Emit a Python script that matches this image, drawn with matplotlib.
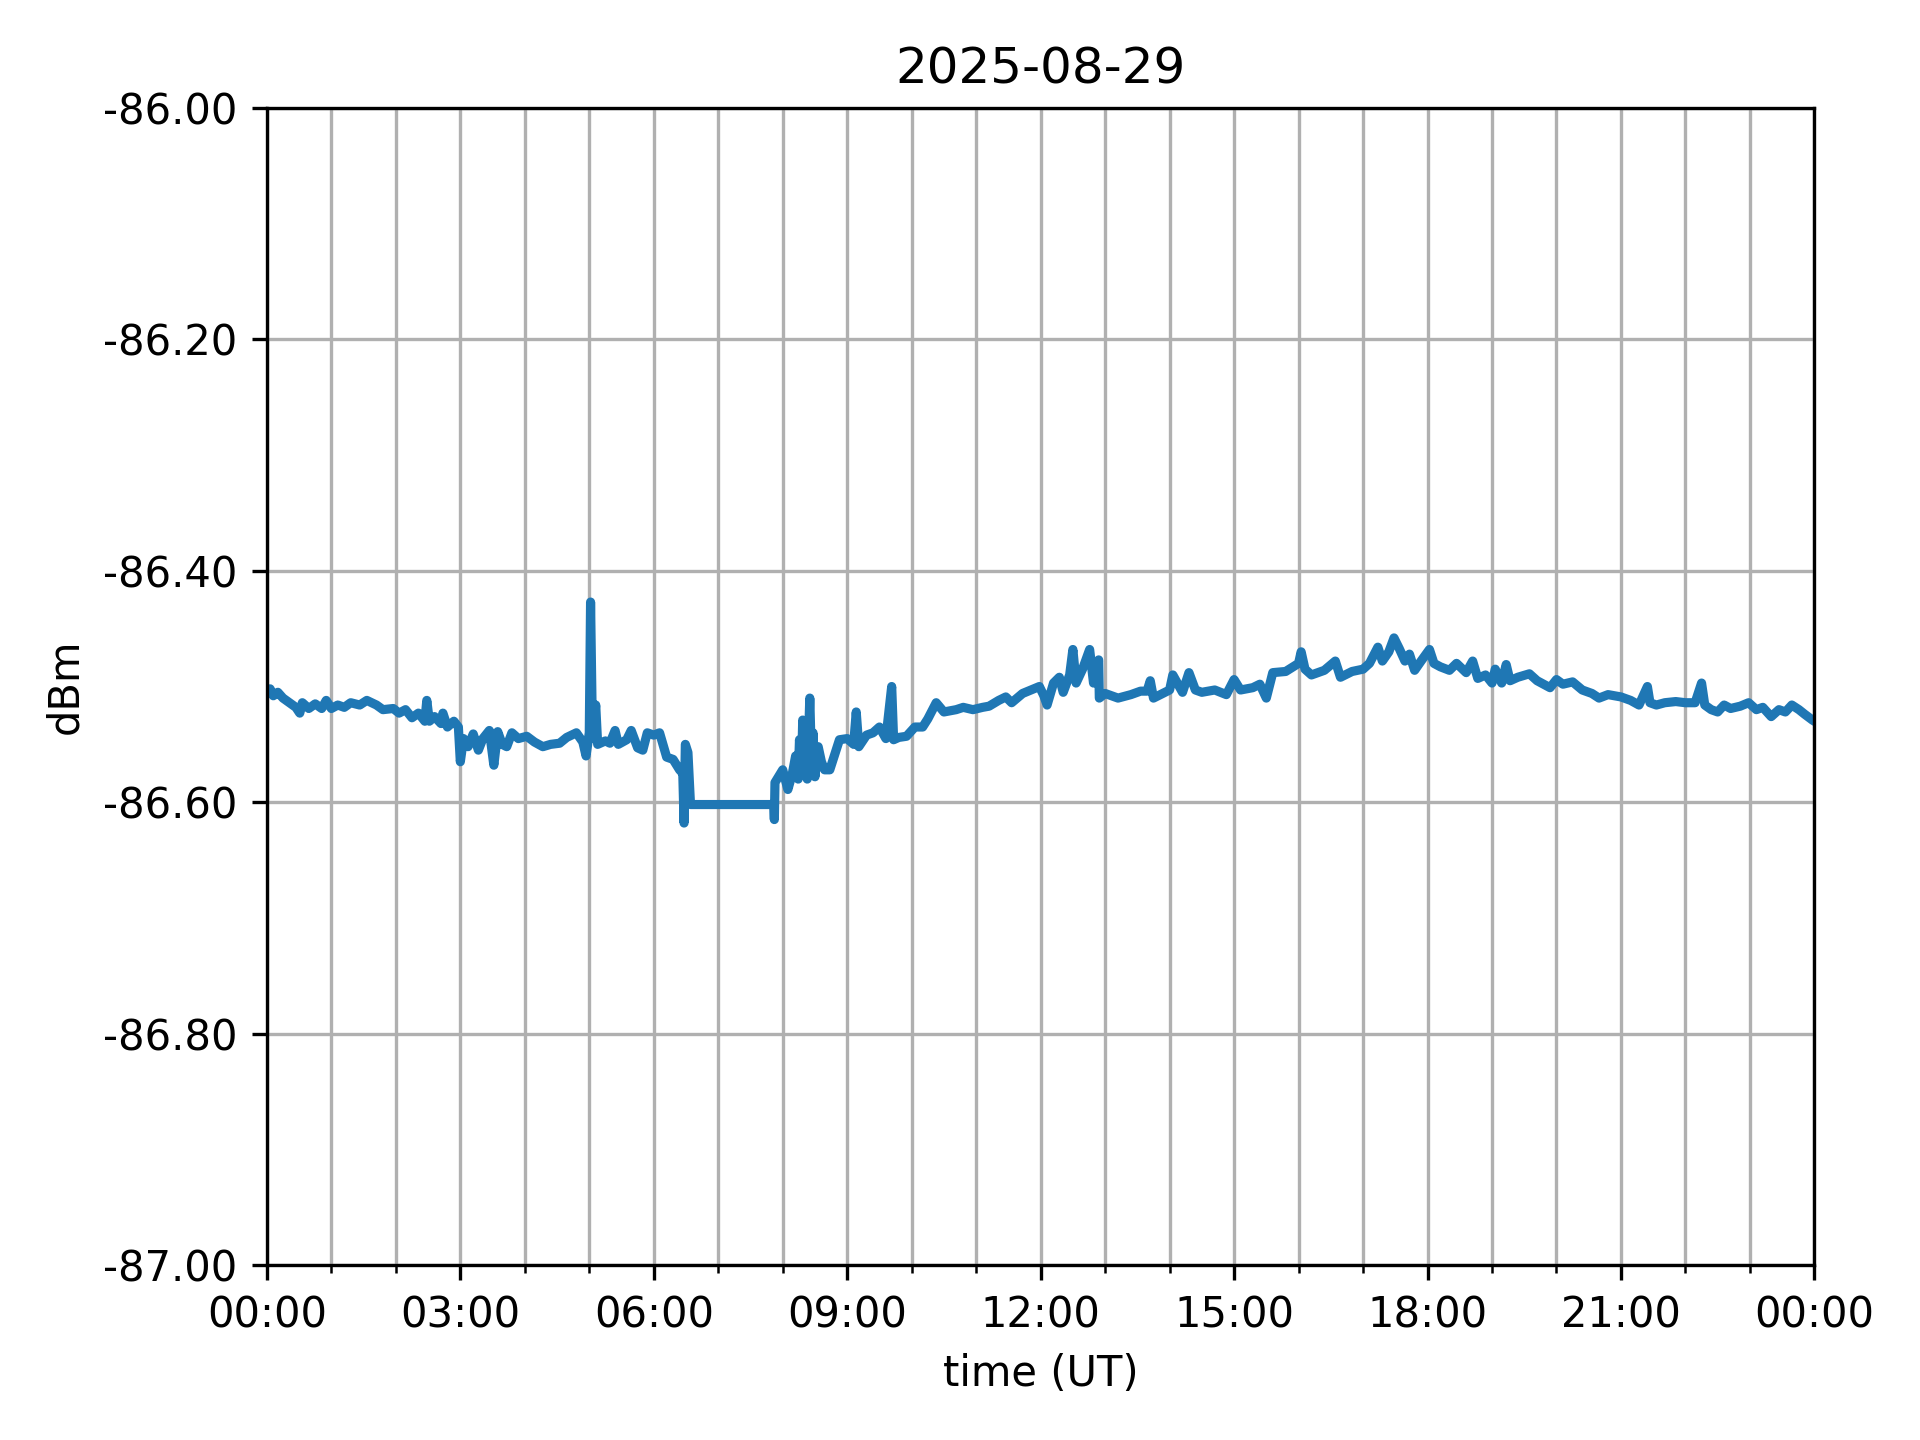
import matplotlib
matplotlib.use("Agg")
import matplotlib.pyplot as plt
import matplotlib.dates as mdates
import numpy as np
import pandas as pd

title = "2025-08-29"

hours = [
    0.00, 0.05, 0.10, 0.17, 0.25, 0.35, 0.45, 0.51, 0.55, 0.65, 0.75, 0.85, 0.92, 1.00,
    1.10, 1.20, 1.30, 1.44, 1.55, 1.70, 1.80, 1.96, 2.05, 2.15, 2.25, 2.35, 2.45, 2.48,
    2.52, 2.60, 2.70, 2.73, 2.80, 2.90, 2.97, 3.00, 3.05, 3.12, 3.20, 3.28, 3.35, 3.45,
    3.52, 3.58, 3.65, 3.72, 3.80, 3.90, 4.03, 4.15, 4.28, 4.40, 4.54, 4.65, 4.80, 4.90,
    4.95, 5.00, 5.02, 5.05, 5.10, 5.13, 5.25, 5.32, 5.40, 5.45, 5.58, 5.65, 5.75, 5.83,
    5.90, 6.00, 6.09, 6.20, 6.30, 6.40, 6.45, 6.47, 6.49, 6.53, 6.57, 7.86, 7.87, 7.88,
    8.00, 8.08, 8.15, 8.20, 8.24, 8.26, 8.29, 8.31, 8.33, 8.35, 8.38, 8.42, 8.45, 8.47,
    8.50, 8.55, 8.60, 8.65, 8.73, 8.80, 8.88, 9.00,
    9.10, 9.14, 9.18, 9.30, 9.40, 9.50, 9.60, 9.69, 9.72, 9.80, 9.92, 10.05, 10.17, 10.25,
    10.38, 10.50, 10.69, 10.80, 10.95, 11.10, 11.20, 11.35, 11.46, 11.55, 11.72, 11.85, 11.98,
    12.05, 12.10, 12.20, 12.29, 12.35, 12.45, 12.50, 12.55, 12.65, 12.76, 12.82, 12.90, 12.91,
    13.00, 13.20, 13.40, 13.55, 13.65, 13.70, 13.75, 14.00, 14.05, 14.20, 14.30, 14.40, 14.50,
    14.70, 14.88, 15.00, 15.10, 15.29, 15.40, 15.50, 15.60, 15.80, 16.00, 16.04, 16.10, 16.20,
    16.40, 16.57, 16.65, 16.83, 17.00, 17.10, 17.23, 17.30, 17.40, 17.48, 17.56, 17.65, 17.72,
    17.80, 17.90, 18.03, 18.10, 18.20, 18.34, 18.45, 18.60, 18.70, 18.78, 18.90, 19.00, 19.05,
    19.15, 19.22, 19.28, 19.40, 19.58, 19.70, 19.90, 20.00, 20.10, 20.25, 20.40, 20.55, 20.66,
    20.80, 21.00, 21.15, 21.28, 21.41, 21.45, 21.55, 21.68, 21.85, 22.00, 22.15, 22.25, 22.30,
    22.40, 22.50, 22.60, 22.70, 22.85, 22.98, 23.10, 23.20, 23.33, 23.45, 23.55, 23.65, 23.76,
    23.85, 23.97, 24.00,
]

dbm = [
    -86.506, -86.502, -86.508, -86.505, -86.510, -86.514, -86.518, -86.523, -86.514, -86.519,
    -86.515, -86.519, -86.512, -86.519, -86.516, -86.518, -86.514, -86.516, -86.512, -86.516,
    -86.520, -86.519, -86.523, -86.520, -86.527, -86.523, -86.530, -86.512, -86.530, -86.526,
    -86.532, -86.523, -86.535, -86.530, -86.535, -86.565, -86.545, -86.552, -86.541, -86.555,
    -86.545, -86.538, -86.568, -86.539, -86.550, -86.552, -86.540, -86.545, -86.543, -86.548,
    -86.552, -86.550, -86.549, -86.544, -86.540, -86.548, -86.560, -86.540, -86.427, -86.545,
    -86.516, -86.550, -86.547, -86.549, -86.538, -86.550, -86.546, -86.538, -86.553, -86.555,
    -86.540, -86.542, -86.540, -86.561, -86.563, -86.572, -86.575, -86.618, -86.550, -86.557,
    -86.602, -86.602, -86.615, -86.583,
    -86.572, -86.589, -86.575, -86.560, -86.580, -86.546, -86.575, -86.529, -86.570, -86.540,
    -86.580, -86.510, -86.575, -86.540, -86.578, -86.552, -86.565, -86.572, -86.572, -86.560,
    -86.546, -86.545,
    -86.550, -86.522,
    -86.552, -86.542, -86.540, -86.535, -86.545, -86.500, -86.546, -86.544, -86.543, -86.535,
    -86.535, -86.528, -86.514, -86.522, -86.520, -86.518, -86.520, -86.518, -86.517, -86.512,
    -86.509, -86.514, -86.506, -86.503, -86.500, -86.508, -86.516, -86.497, -86.492, -86.505,
    -86.490, -86.468, -86.497, -86.485, -86.468, -86.497, -86.477, -86.510, -86.506, -86.510,
    -86.507, -86.504, -86.504, -86.495, -86.510, -86.503, -86.490, -86.505, -86.488, -86.503,
    -86.505, -86.503, -86.507, -86.494, -86.503, -86.501, -86.498, -86.510, -86.488, -86.487,
    -86.480, -86.470, -86.485, -86.490, -86.486, -86.478, -86.492, -86.487, -86.485, -86.480,
    -86.466, -86.478, -86.470, -86.458, -86.467, -86.478, -86.472, -86.486, -86.478, -86.468,
    -86.480, -86.483, -86.486, -86.480, -86.488, -86.478, -86.493, -86.490, -86.497, -86.485,
    -86.497, -86.481, -86.495, -86.492, -86.489, -86.495, -86.501, -86.494, -86.498, -86.496,
    -86.503, -86.506, -86.510, -86.507, -86.509, -86.512, -86.516, -86.500, -86.514, -86.516,
    -86.514, -86.513, -86.514, -86.514, -86.497, -86.516, -86.520, -86.522, -86.516, -86.519,
    -86.517, -86.514, -86.520, -86.518, -86.526, -86.520, -86.522, -86.516, -86.520, -86.524,
    -86.529, -86.530,
]

start = pd.Timestamp("2025-08-29 00:00")
times = [start + pd.Timedelta(hours=h) for h in hours]

fig, ax = plt.subplots(figsize=(6.4, 4.8), dpi=300)
fig.subplots_adjust(left=0.139, right=0.945, top=0.925, bottom=0.1215)

ax.plot(times, dbm, color="#1f77b4", linewidth=2.2)

ax.set_xlim(start, start + pd.Timedelta(hours=24))
ax.set_ylim(-87.0, -86.0)
ax.set_yticks(np.arange(-87.0, -85.99, 0.2))
ax.yaxis.set_major_formatter(matplotlib.ticker.FormatStrFormatter("%.2f"))
ax.xaxis.set_major_locator(mdates.HourLocator(interval=3))
ax.xaxis.set_minor_locator(mdates.HourLocator(interval=1))
ax.xaxis.set_major_formatter(mdates.DateFormatter("%H:%M"))
ax.grid(True, which="both")

ax.set_title(title)
ax.set_xlabel("time (UT)")
ax.set_ylabel("dBm")

fig.savefig("out.png", dpi=300)
